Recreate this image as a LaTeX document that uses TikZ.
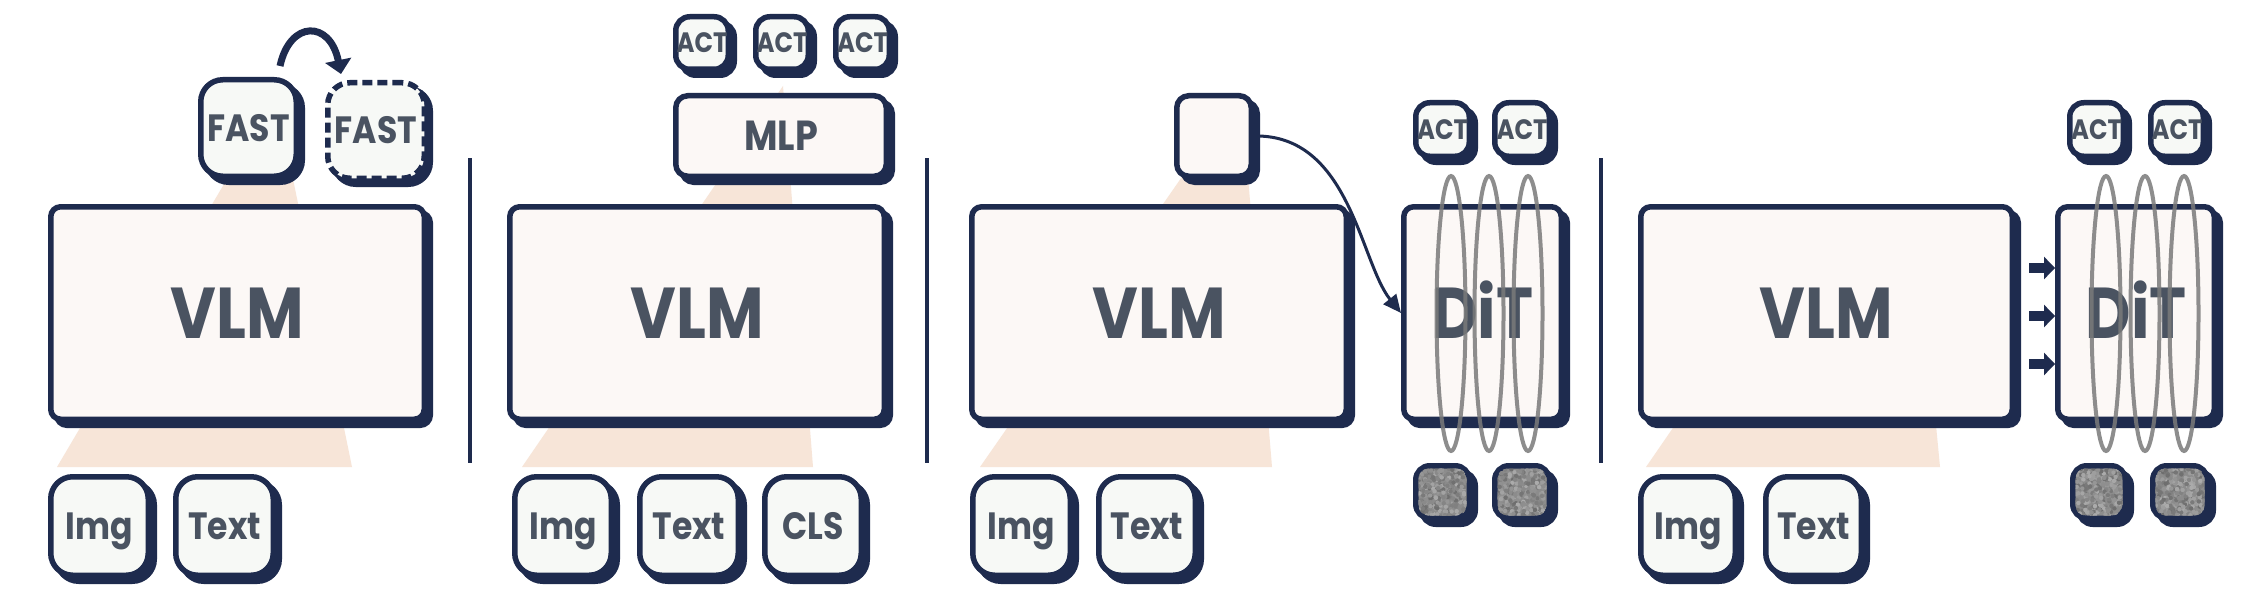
\documentclass[tikz,border=0pt]{standalone}
\usepackage{fontspec}
\setmainfont{Poppins}[FakeStretch=0.87]
\usetikzlibrary{shadows,arrows.meta,calc}
\definecolor{navy}{HTML}{1E2B4E}
\definecolor{txtc}{HTML}{4A5361}
\definecolor{peach}{HTML}{F7E5D8}
\definecolor{fillp}{HTML}{FCF8F6}
\definecolor{fillg}{HTML}{F7F9F6}
\definecolor{ringc}{HTML}{7A7A7A}
% #1 opts, #2 name, #3 L, #4 T, #5 R, #6 B (outer extents incl. shadow), #7 text
\newcommand{\bx}[7][]{%
  \pgfmathsetmacro\bxw{(#5-#3-11.5)*0.5}%
  \pgfmathsetmacro\bxh{(#6-#4-11.5)*0.5}%
  \pgfmathsetmacro\bxx{(#3+#5-6)/2}%
  \pgfmathsetmacro\bxy{(#4+#6-6)/2}%
  \node[box,#1,minimum width=\bxw pt,minimum height=\bxh pt] (#2) at (\bxx,\bxy) {#7};}
\newcommand{\noisefill}[4]{%
  \begin{scope}
  \clip[rounded corners=5pt] ({#1+5.5},{#2+5.5}) rectangle ({#3-11.5},{#4-11.5});
  \foreach \i in {1,...,320}{%
    \pgfmathsetmacro\rx{#1+5.5+rnd*(#3-#1-17)}%
    \pgfmathsetmacro\ry{#2+5.5+rnd*(#4-#2-17)}%
    \pgfmathtruncatemacro\rc{33+25*rnd}%
    \fill[black!\rc] (\rx,\ry) circle (1.1pt);}
  \end{scope}}
\tikzset{
  box/.style={draw=navy, line width=2.75pt, inner sep=0pt, text=txtc,
    general shadow={fill=navy, draw=navy, solid, line width=2.75pt, shadow xshift=3pt, shadow yshift=-3pt}},
  big/.style={fill=fillp, rounded corners=5pt, text height=25pt, text depth=0pt,
    font=\bfseries\fontsize{36}{36}\selectfont},
  tok/.style={fill=fillg, rounded corners=11pt, text height=13.3pt, text depth=0pt,
    font=\bfseries\fontsize{19}{19}\selectfont},
  actbox/.style={fill=fillg, rounded corners=7pt, text height=9.8pt, text depth=0pt,
    font=\bfseries\fontsize{14}{14}\selectfont},
  mlpbox/.style={fill=fillp, rounded corners=6pt, text height=14.7pt, text depth=0pt,
    font=\bfseries\fontsize{21}{21}\selectfont},
  sqbox/.style={fill=fillp, rounded corners=6pt},
  noisebox/.style={fill=black!45, rounded corners=7pt},
  dashbox/.style={dash pattern=on 5pt off 2.5pt},
  ring/.style={draw=ringc, line width=2pt, draw opacity=0.85},
  sep/.style={draw=navy, line width=2pt},
  cone/.style={fill=peach},
  bigarc/.style={draw=navy, line width=3.5pt, -{Triangle[length=7pt,width=13pt]}},
  thinarr/.style={draw=navy, line width=1.5pt, -{Triangle[length=9pt,width=8pt]}},
  blockarr/.style={draw=navy, line width=5pt, -{Triangle[length=5.5pt,width=11pt]}},
}
\begin{document}
\begin{tikzpicture}[x=0.5pt,y=-0.5pt]
\pgfmathsetseed{7}
\useasboundingbox (0,0) rectangle (2248,610);
\fill[white] (0,0) rectangle (2248,610);
% cones
\fill[cone] (276,96) -- (57,467) -- (352,467) -- cycle;
\fill[cone] (783,86) -- (522,467) -- (813,467) -- cycle;
\fill[cone] (1241,92) -- (980,467) -- (1272,467) -- cycle;
\fill[cone] (1761,300) -- (1924,300) -- (1940,467) -- (1646,467) -- cycle;
% separators
\draw[sep] (470,158) -- (470,463);
\draw[sep] (927,158) -- (927,463);
\draw[sep] (1601,158) -- (1601,463);
% panel 1
\bx[big]{vlm1}{48}{204}{433}{428}{VLM}
\bx[tok]{fast1}{198}{77}{305}{185}{FAST}
\bx[tok,dashbox]{fast2}{325}{80}{433}{187}{FAST}
\bx[tok]{img1}{48}{474}{157}{584}{Img}
\bx[tok]{txt1}{173}{474}{282}{584}{Text}
\coordinate (arcS) at (280,66);
\coordinate (arcE) at (341,74);
\draw[bigarc] (arcS) .. controls (290,20) and (330,20) .. (arcE);
% panel 2
\bx[actbox]{act2a}{673}{14}{737}{78}{ACT}
\bx[actbox]{act2b}{753}{14}{817}{78}{ACT}
\bx[actbox]{act2c}{833}{14}{898}{78}{ACT}
\bx[mlpbox]{mlp}{673}{93}{895}{185}{MLP}
\bx[big]{vlm2}{507}{204}{893}{428}{VLM}
\bx[tok]{img2}{512}{474}{620}{584}{Img}
\bx[tok]{txt2}{637}{474}{747}{584}{Text}
\bx[tok]{cls}{762}{474}{870}{584}{CLS}
% panel 3
\bx[sqbox]{sq}{1174}{93}{1260}{185}{}
\bx[big]{vlm3}{969}{204}{1355}{428}{VLM}
\bx[tok]{img3}{970}{474}{1079}{584}{Img}
\bx[tok]{txt3}{1096}{474}{1204}{584}{Text}
\bx[big]{dit3}{1401}{204}{1570}{428}{DiT}
\bx[actbox]{act3a}{1413}{100}{1478}{165}{ACT}
\bx[actbox]{act3b}{1492}{100}{1558}{165}{ACT}
\bx[noisebox]{nz3a}{1413}{463}{1478}{527}{}
\noisefill{1413}{463}{1478}{527}
\bx[noisebox]{nz3b}{1492}{463}{1558}{527}{}
\noisefill{1492}{463}{1558}{527}
\draw[ring] (1451,313.5) ellipse [x radius=14.5, y radius=137.5];
\draw[ring] (1489,313.5) ellipse [x radius=14.5, y radius=137.5];
\draw[ring] (1528,313.5) ellipse [x radius=14.5, y radius=137.5];
\draw[thinarr] (sq.east) .. controls (1350,134) and (1360,262) .. (dit3.west);
% panel 4
\bx[big]{vlm4}{1638}{204}{2021}{428}{VLM}
\bx[tok]{img4}{1638}{474}{1744}{584}{Img}
\bx[tok]{txt4}{1763}{474}{1870}{584}{Text}
\bx[big]{dit4}{2055}{204}{2223}{428}{DiT}
\bx[actbox]{act4a}{2067}{100}{2132}{165}{ACT}
\bx[actbox]{act4b}{2148}{100}{2212}{165}{ACT}
\bx[noisebox]{nz4a}{2070}{463}{2134}{527}{}
\noisefill{2070}{463}{2134}{527}
\bx[noisebox]{nz4b}{2150}{463}{2216}{527}{}
\noisefill{2150}{463}{2216}{527}
\draw[ring] (2106,313.5) ellipse [x radius=14.5, y radius=137.5];
\draw[ring] (2145,313.5) ellipse [x radius=14.5, y radius=137.5];
\draw[ring] (2184,313.5) ellipse [x radius=14.5, y radius=137.5];
\coordinate (b1) at (2029,268);
\coordinate (b2) at (2029,316);
\coordinate (b3) at (2029,364);
\draw[blockarr] (b1) -- (dit4.west |- b1);
\draw[blockarr] (b2) -- (dit4.west |- b2);
\draw[blockarr] (b3) -- (dit4.west |- b3);
\end{tikzpicture}
\end{document}
